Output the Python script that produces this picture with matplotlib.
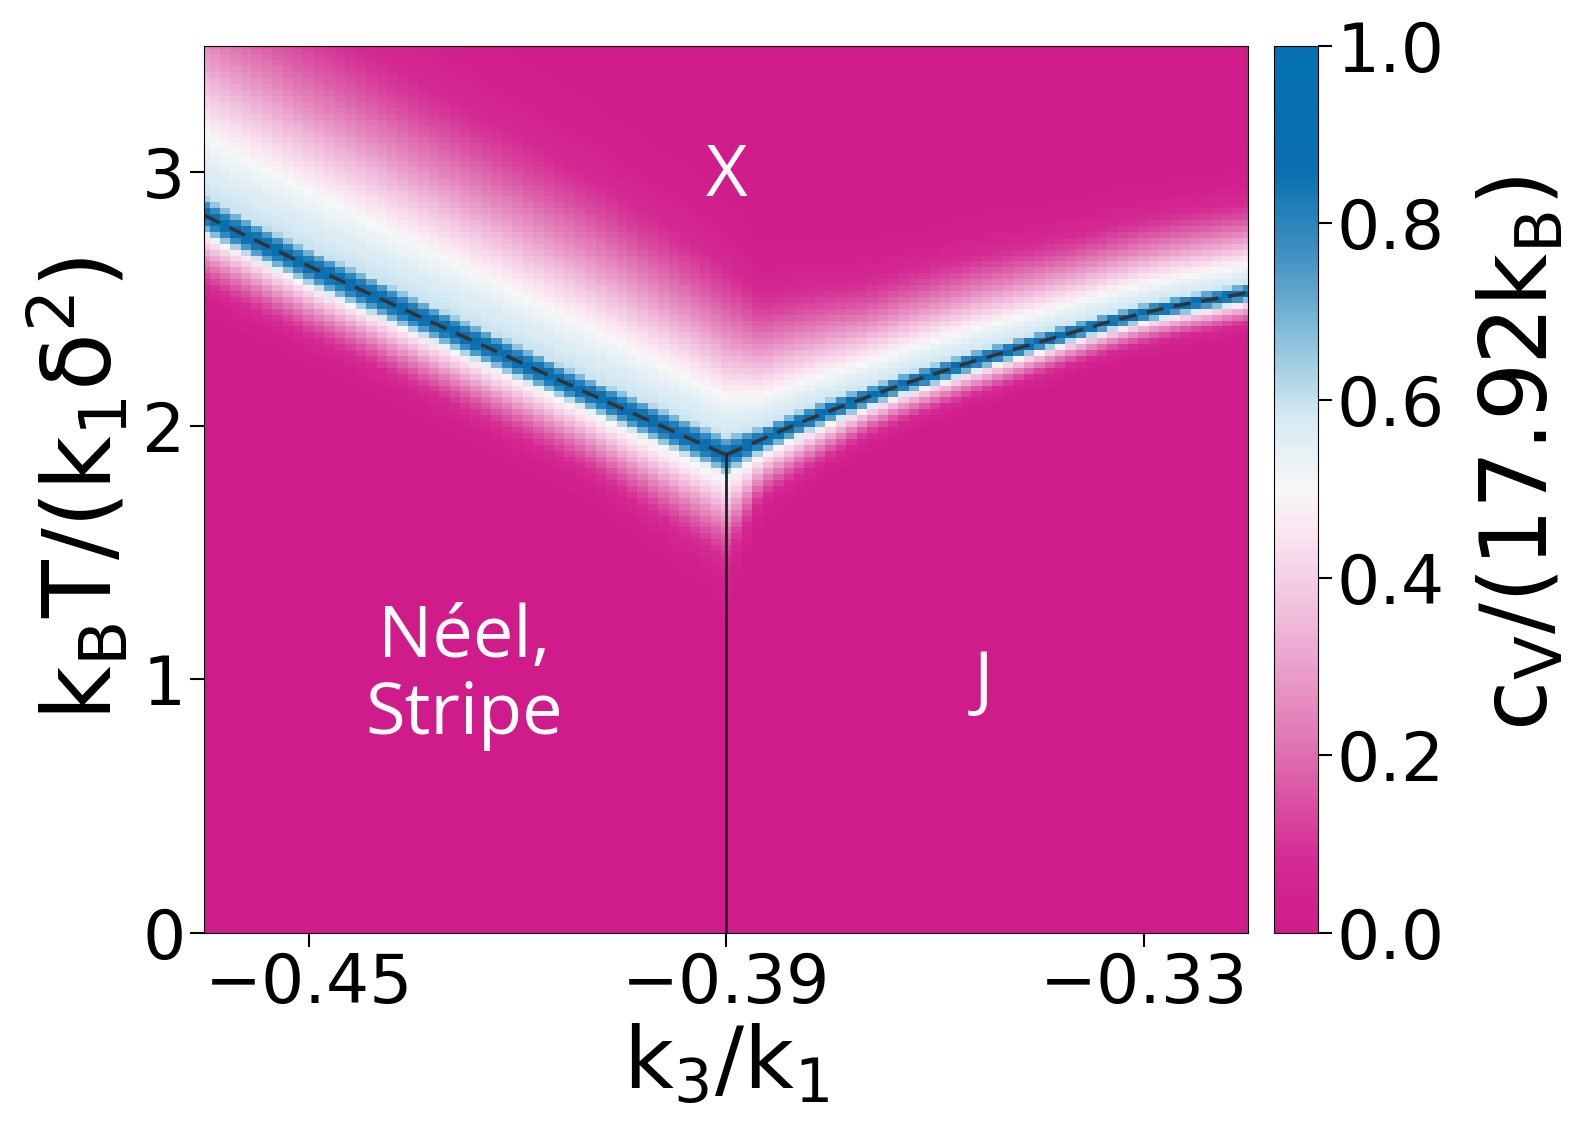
import numpy as np
import matplotlib
matplotlib.use("Agg")
import matplotlib.pyplot as plt
from matplotlib.colors import LinearSegmentedColormap

# transition line (k3/k1, kB T/(k1 delta^2))
k_left = [-0.465, -0.45, -0.43, -0.41, -0.39]
tc_left = [2.83, 2.63, 2.38, 2.13, 1.885]
k_right = [-0.39, -0.385, -0.38, -0.375, -0.37, -0.365, -0.36, -0.355, -0.35,
           -0.345, -0.34, -0.335, -0.33, -0.325, -0.32, -0.315]
tc_right = [1.885, 1.945, 2.005, 2.06, 2.11, 2.16, 2.205, 2.25, 2.29,
            2.33, 2.37, 2.41, 2.445, 2.475, 2.50, 2.525]

# width of the specific heat peak and its halo above / below Tc
k_nodes = [-0.465, -0.44, -0.41, -0.395, -0.39, -0.385, -0.37, -0.34, -0.315]
halo_up = [0.72, 0.66, 0.60, 0.55, 0.52, 0.40, 0.32, 0.27, 0.25]
halo_dn = [0.20, 0.20, 0.22, 0.28, 0.30, 0.17, 0.11, 0.09, 0.09]
peak_w = [0.11, 0.11, 0.10, 0.11, 0.12, 0.08, 0.065, 0.055, 0.055]

cbar_ticks = [0.0, 0.2, 0.4, 0.6, 0.8, 1.0]
x_ticks = [-0.45, -0.39, -0.33]
y_ticks = [0, 1, 2, 3]
k_triple = -0.39
t_triple = 1.885

labels = [("X", -0.39, 2.98), ("Néel,\nStripe", -0.4276, 1.01), ("J", -0.353, 0.98)]

# field on the simulation grid
k_grid = np.linspace(-0.465, -0.315, 101)
t_grid = np.linspace(0, 3.5, 151)
K, T = np.meshgrid(k_grid, t_grid)
tc = np.where(K <= k_triple, np.interp(K, k_left, tc_left), np.interp(K, k_right, tc_right))
dT = T - tc
w_up = np.interp(K, k_nodes, halo_up)
w_dn = np.interp(K, k_nodes, halo_dn)
w_pk = np.interp(K, k_nodes, peak_w)
halo = np.where(dT > 0, 0.6 * np.exp(-(dT / w_up) ** 2), 0.56 * np.exp(-(dT / w_dn) ** 2))
peak = 0.88 * np.exp(-(dT / w_pk) ** 2)
cv = np.clip(np.maximum(peak, halo), 0, 1)

cmap = LinearSegmentedColormap.from_list("pinkblue", [
    (0.00, "#d01c8b"), (0.08, "#d42a93"), (0.20, "#df6fb0"), (0.35, "#f0b9da"),
    (0.45, "#fae4f0"), (0.50, "#f7f7f7"), (0.58, "#d6eaf3"), (0.66, "#92c5de"),
    (0.76, "#4393c3"), (0.86, "#0a6fb0"), (1.00, "#0571b0")])

fig = plt.figure(figsize=(15.96, 11.4), dpi=100)
ax = fig.add_axes([0.128, 0.182, 0.654, 0.778])
cax = fig.add_axes([0.798, 0.182, 0.0276, 0.778])

mesh = ax.pcolormesh(k_grid, t_grid, cv, cmap=cmap, vmin=0, vmax=1, shading="nearest")
ax.plot(k_left, tc_left, ls="--", color="#333333", lw=2.5, dashes=(5, 3))
ax.plot(k_right, tc_right, ls="--", color="#333333", lw=2.5, dashes=(5, 3))
ax.plot([k_triple, k_triple], [0, t_triple], color="#222222", lw=2)

for txt, x, y in labels:
    ax.text(x, y, txt, color="white", fontsize=52, family="Open Sans",
            ha="center", va="center", linespacing=1.1)

ax.set_xlim(-0.465, -0.315)
ax.set_ylim(0, 3.5)
ax.set_xticks(x_ticks)
ax.set_xticklabels(["\u22120.45", "\u22120.39", "\u22120.33"])
ax.set_yticks(y_ticks)
ax.tick_params(labelsize=49, length=10, width=1.5)
ax.set_xlabel(r"$\mathregular{k_3/k_1}$", fontsize=62, labelpad=4)
ax.set_ylabel(r"$\mathregular{k_BT/(k_1\delta^2)}$", fontsize=68, labelpad=8)

cb = fig.colorbar(mesh, cax=cax, ticks=cbar_ticks)
cb.ax.tick_params(labelsize=49, length=10, width=1.5)
cb.ax.set_yticklabels(["%.1f" % v for v in cbar_ticks])
cb.set_label(r"$\mathregular{c_V/(17.92k_B)}$", fontsize=66)
cb.ax.yaxis.set_label_coords(4.6, 0.54)

fig.savefig("out.png", dpi=100)
